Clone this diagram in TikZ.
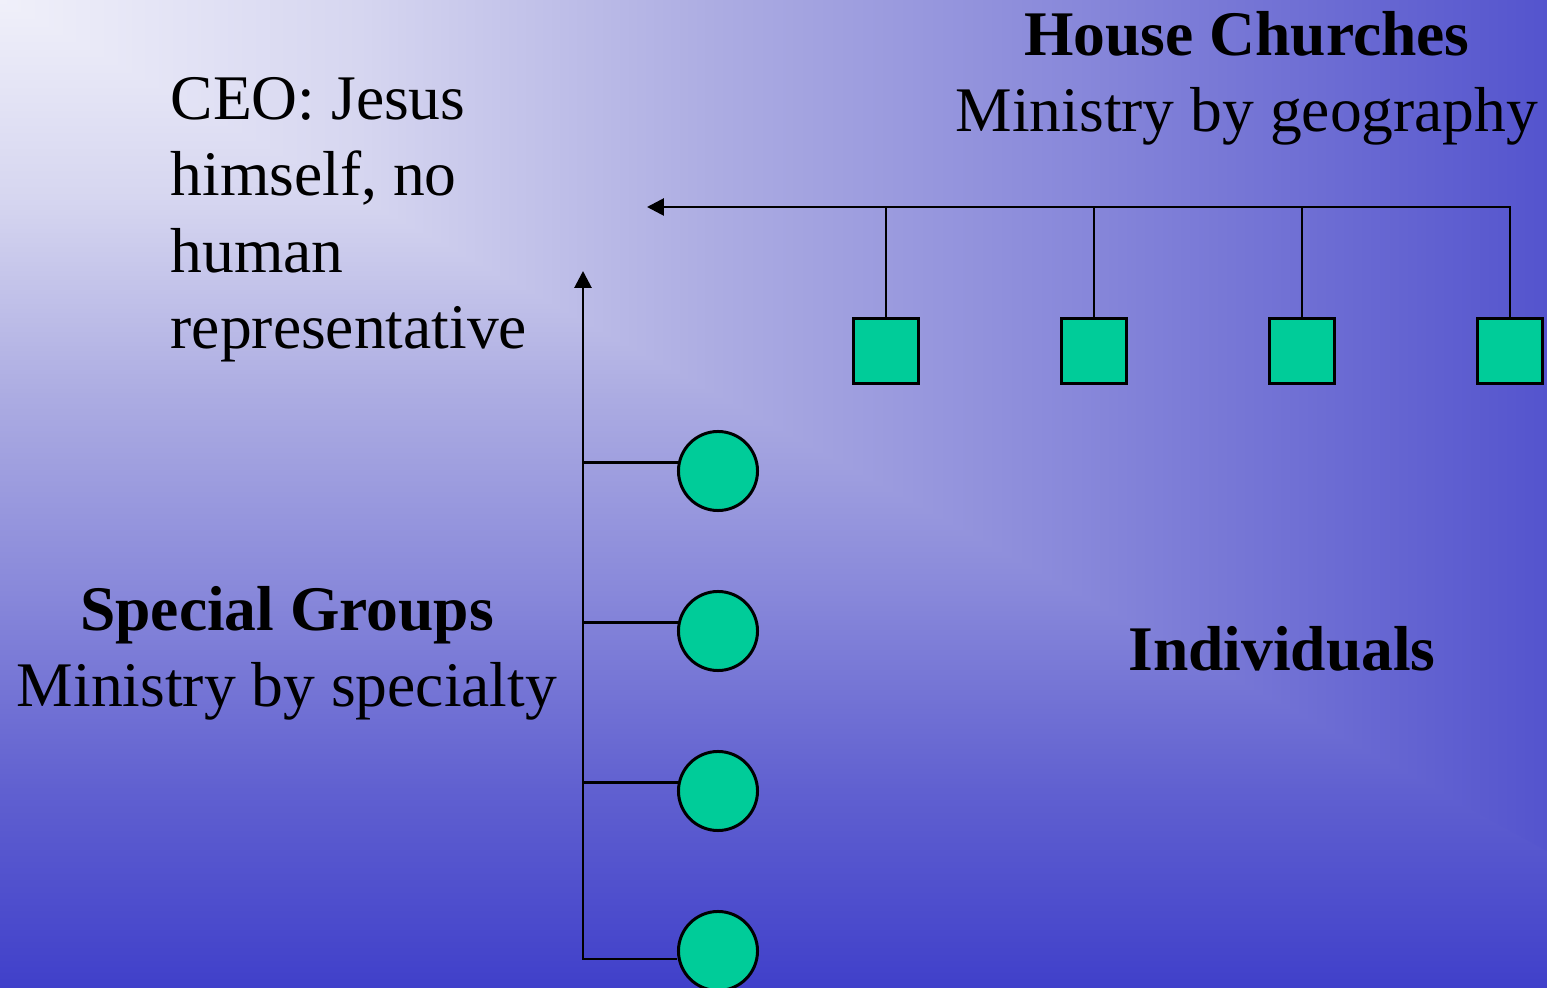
\documentclass[tikz,border=0pt]{standalone}
\usepackage{fontspec}
\setmainfont{Liberation Serif}
\usetikzlibrary{arrows.meta}
\definecolor{bgz}{RGB}{240,240,250}
\definecolor{bga}{RGB}{214,214,240}
\definecolor{bgb}{RGB}{172,172,226}
\definecolor{bgc}{RGB}{136,136,218}
\definecolor{bgd}{RGB}{96,96,208}
\definecolor{bge}{RGB}{64,64,202}
\definecolor{bgr}{RGB}{84,84,206}
\definecolor{teal}{RGB}{0,204,153}
\pgfdeclareverticalshading{bgvert}{100bp}{color(0bp)=(bge); color(25bp)=(bge); color(35bp)=(bgd); color(45bp)=(bgc); color(55bp)=(bgb); color(65bp)=(bga); color(75bp)=(bgz); color(100bp)=(bgz)}
\pgfdeclarehorizontalshading{bghorz}{100bp}{color(0bp)=(bgz); color(25bp)=(bgz); color(36.6bp)=(bga); color(48.2bp)=(bgb); color(59.8bp)=(bgc); color(71.5bp)=(bgd); color(75bp)=(bgr); color(100bp)=(bgr)}
\begin{document}
\begin{tikzpicture}[x=0.01cm,y=-0.01cm,
  txt/.style={font=\fontsize{18.07pt}{21.8pt}\selectfont, inner sep=0pt, text=black},
  sqbox/.style={rectangle, draw=black, fill=teal, line width=0.85pt, minimum size=0.64cm, inner sep=0pt},
  circbox/.style={circle, draw=black, fill=teal, line width=0.85pt, minimum size=0.79cm, inner sep=0pt},
  link/.style={draw=black, line width=0.8pt},
  arr/.style={link, -{Triangle[length=4.8pt,width=4.8pt]}}]
\useasboundingbox (0,0) rectangle (1547,988);
% background: corner gradient
\shade[shading=bgvert] (0,0) rectangle (1547,988);
\begin{scope}
  \clip (0,0) -- (1547,0) -- (1547,851) -- cycle;
  \shade[shading=bghorz] (0,0) rectangle (1547,988);
\end{scope}

% texts (base anchor = baseline of the last line)
\node[txt, anchor=base west, align=left] (ceo) at (170,349) {CEO: Jesus\\himself, no\\human\\representative};
\node[txt, anchor=base, align=center] (hc) at (1247,132) {\textbf{House Churches}\\Ministry by geography};
\node[txt, anchor=base, align=center] (sg) at (287,707) {\textbf{Special Groups}\\Ministry by specialty};
\node[txt, anchor=base] (ind) at (1282,671) {\textbf{Individuals}};

% house churches
\node[sqbox] (s1) at (886,351) {};
\node[sqbox] (s2) at (1094,351) {};
\node[sqbox] (s3) at (1302,351) {};
\node[sqbox] (s4) at (1510,351) {};
\coordinate (tipH) at (647,207);
\draw[arr] (s4.north) |- (tipH);
\draw[link] (s1.north) -- (s1.north |- tipH);
\draw[link] (s2.north) -- (s2.north |- tipH);
\draw[link] (s3.north) -- (s3.north |- tipH);

% special groups
\node[circbox] (c1) at (718,471) {};
\node[circbox] (c2) at (718,631) {};
\node[circbox] (c3) at (718,791) {};
\node[circbox] (c4) at (718,951) {};
\coordinate (tipV) at (583,271);
\coordinate (spineB) at (583,959);
\draw[arr] (c4.west |- spineB) -- (spineB) -- (tipV);
\draw[link] (c1.168.5) -- (c1.168.5 -| spineB);
\draw[link] (c2.168.5) -- (c2.168.5 -| spineB);
\draw[link] (c3.168.5) -- (c3.168.5 -| spineB);
\end{tikzpicture}
\end{document}
